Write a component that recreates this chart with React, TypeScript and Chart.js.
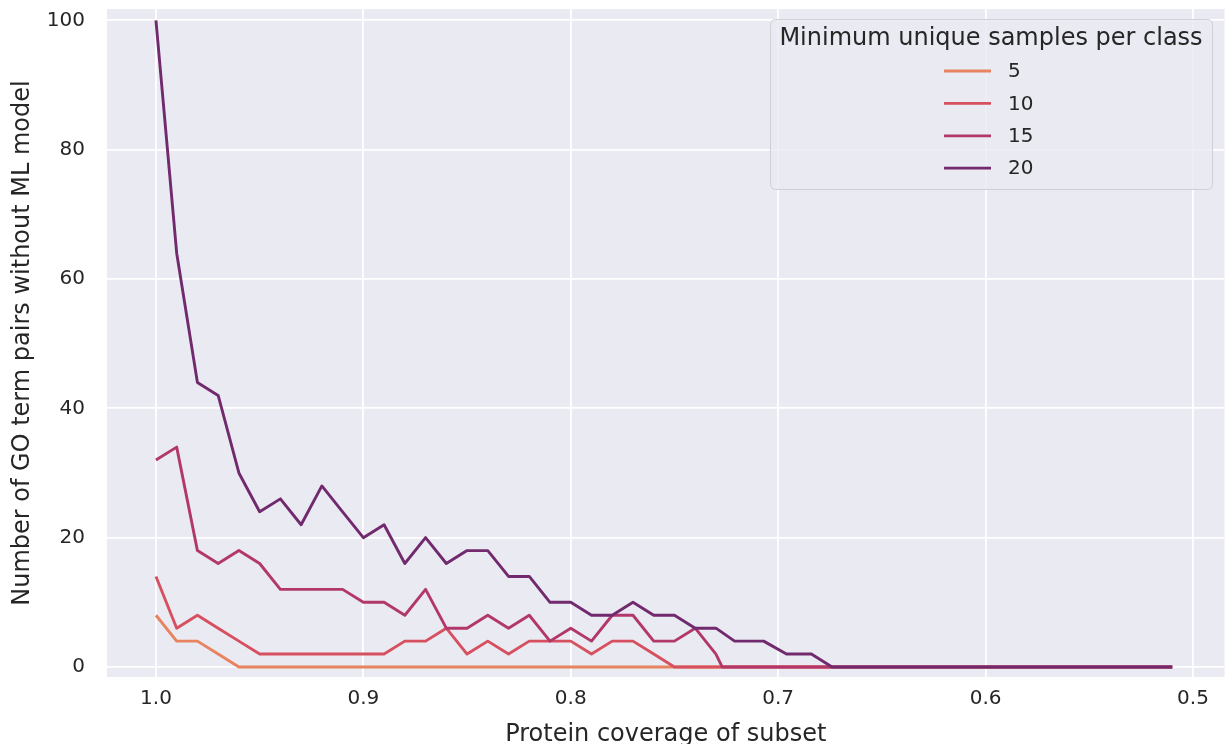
import React, { useEffect, useRef } from 'react';
import { Chart, registerables } from 'chart.js';

Chart.register(...registerables);

// ---- data ----
const coverage = [
  1.0, 0.99, 0.98, 0.97, 0.96, 0.95, 0.94, 0.93, 0.92, 0.91,
  0.9, 0.89, 0.88, 0.87, 0.86, 0.85, 0.84, 0.83, 0.82, 0.81,
  0.8, 0.79, 0.78, 0.77, 0.76, 0.75, 0.74, 0.73, 0.727, 0.721,
  0.707, 0.696, 0.684, 0.674, 0.66, 0.65, 0.64, 0.63, 0.62, 0.61,
  0.6, 0.59, 0.58, 0.57, 0.56, 0.55, 0.54, 0.53, 0.52, 0.51,
];

const seriesLabels = ['5', '10', '15', '20'];

const s5 = [
  8, 4, 4, 2, 0, 0, 0, 0, 0, 0,
  0, 0, 0, 0, 0, 0, 0, 0, 0, 0,
  0, 0, 0, 0, 0, 0, 0, 0, 0, 0,
  0, 0, 0, 0, 0, 0, 0, 0, 0, 0,
  0, 0, 0, 0, 0, 0, 0, 0, 0, 0,
];

const s10 = [
  14, 6, 8, 6, 4, 2, 2, 2, 2, 2,
  2, 2, 4, 4, 6, 2, 4, 2, 4, 4,
  4, 2, 4, 4, 2, 0, 0, 0, 0, 0,
  0, 0, 0, 0, 0, 0, 0, 0, 0, 0,
  0, 0, 0, 0, 0, 0, 0, 0, 0, 0,
];

const s15 = [
  32, 34, 18, 16, 18, 16, 12, 12, 12, 12,
  10, 10, 8, 12, 6, 6, 8, 6, 8, 4,
  6, 4, 8, 8, 4, 4, 6, 2, 0, 0,
  0, 0, 0, 0, 0, 0, 0, 0, 0, 0,
  0, 0, 0, 0, 0, 0, 0, 0, 0, 0,
];

const s20 = [
  100, 64, 44, 42, 30, 24, 26, 22, 28, 24,
  20, 22, 16, 20, 16, 18, 18, 14, 14, 10,
  10, 8, 8, 10, 8, 8, 6, 6, null, 4,
  4, 2, 2, 0, 0, 0, 0, 0, 0, 0,
  0, 0, 0, 0, 0, 0, 0, 0, 0, 0,
];

const xTicks = [1.0, 0.9, 0.8, 0.7, 0.6, 0.5];
const yTicks = [0, 20, 40, 60, 80, 100];

const xTitle = 'Protein coverage of subset';
const yTitle = 'Number of GO term pairs without ML model';
const legendTitle = 'Minimum unique samples per class';

const colors = ['#e8835f', '#d6505f', '#b2386c', '#722a6e'];

export default function App() {
  const ref = useRef<HTMLCanvasElement | null>(null);

  useEffect(() => {
    if (!ref.current) return;
    const FONT = "'DejaVu Sans', sans-serif";
    const TEXT = '#262626';

    const bgPlugin = {
      id: 'plotBg',
      beforeDraw(chart: any) {
        const { ctx, chartArea: a } = chart;
        ctx.save();
        ctx.fillStyle = '#eaeaf2';
        ctx.fillRect(a.left, a.top, a.right - a.left, a.bottom - a.top);
        ctx.restore();
      },
    };

    const legendPlugin = {
      id: 'mplLegend',
      afterDatasetsDraw(chart: any) {
        const { ctx } = chart;
        const x0 = 770;
        const y0 = 19;
        const w = 442;
        const h = 170;
        ctx.save();
        ctx.beginPath();
        ctx.roundRect(x0 + 0.5, y0 + 0.5, w, h, 5);
        ctx.fillStyle = 'rgba(234,234,242,0.8)';
        ctx.fill();
        ctx.strokeStyle = '#cfcfd6';
        ctx.lineWidth = 1;
        ctx.stroke();

        ctx.fillStyle = TEXT;
        ctx.textAlign = 'center';
        ctx.textBaseline = 'middle';
        ctx.font = `24px ${FONT}`;
        ctx.fillText(legendTitle, x0 + w / 2, 39);

        ctx.font = `20px ${FONT}`;
        ctx.textAlign = 'left';
        chart.data.datasets.forEach((ds: any, i: number) => {
          const y = 71 + i * 32.4;
          ctx.beginPath();
          ctx.moveTo(944, y);
          ctx.lineTo(991, y);
          ctx.strokeStyle = ds.borderColor;
          ctx.lineWidth = 2.8;
          ctx.stroke();
          ctx.fillStyle = TEXT;
          ctx.fillText(ds.label, 1008, y + 1);
        });
        ctx.restore();
      },
    };

    const series = [s5, s10, s15, s20];
    const datasets = series.map((vals, i) => ({
      label: seriesLabels[i],
      data: coverage.map((x, j) => ({ x, y: vals[j] })),
      borderColor: colors[i],
      backgroundColor: colors[i],
      borderWidth: 2.9,
      pointRadius: 0,
      tension: 0,
      spanGaps: true,
      borderJoinStyle: 'round' as const,
      order: series.length - 1 - i,
    }));

    const chart = new Chart(ref.current, {
      type: 'line',
      data: { datasets },
      plugins: [bgPlugin, legendPlugin],
      options: {
        animation: false,
        responsive: true,
        maintainAspectRatio: false,
        layout: { padding: { top: 9, right: 1.5, left: 0, bottom: 0 } },
        plugins: {
          legend: { display: false },
          tooltip: { enabled: false },
        },
        scales: {
          x: {
            type: 'linear',
            reverse: true,
            min: 0.4848,
            max: 1.0236,
            afterBuildTicks: (scale: any) => {
              scale.ticks = xTicks.map((v) => ({ value: v }));
            },
            afterFit: (scale: any) => {
              scale.height = 67;
              scale.paddingLeft = 0;
              scale.paddingRight = 0;
            },
            ticks: {
              padding: 10,
              color: TEXT,
              font: { family: FONT, size: 20 },
              callback: (v: any) => Number(v).toFixed(1),
              maxRotation: 0,
              autoSkip: false,
            },
            grid: { color: '#ffffff', lineWidth: 1.8, drawTicks: false },
            border: { display: false },
            title: {
              display: true,
              text: xTitle,
              color: TEXT,
              font: { family: FONT, size: 24 },
              padding: { top: 0, bottom: -5 },
            },
          },
          y: {
            type: 'linear',
            min: -1.55,
            max: 101.76,
            afterBuildTicks: (scale: any) => {
              scale.ticks = yTicks.map((v) => ({ value: v }));
            },
            afterFit: (scale: any) => {
              scale.width = 107;
              scale.paddingTop = 0;
              scale.paddingBottom = 0;
            },
            ticks: {
              padding: 22,
              color: TEXT,
              font: { family: FONT, size: 20 },
              callback: (v: any) => String(v),
            },
            grid: { color: '#ffffff', lineWidth: 1.8, drawTicks: false },
            border: { display: false },
            title: {
              display: true,
              text: yTitle,
              color: TEXT,
              font: { family: FONT, size: 24 },
              padding: { top: 8, bottom: 0 },
            },
          },
        },
      },
    });

    return () => chart.destroy();
  }, []);

  return (
    <div style={{ position: 'absolute', left: 0, top: 0, width: 1226, height: 744 }}>
      <canvas ref={ref} />
    </div>
  );
}
